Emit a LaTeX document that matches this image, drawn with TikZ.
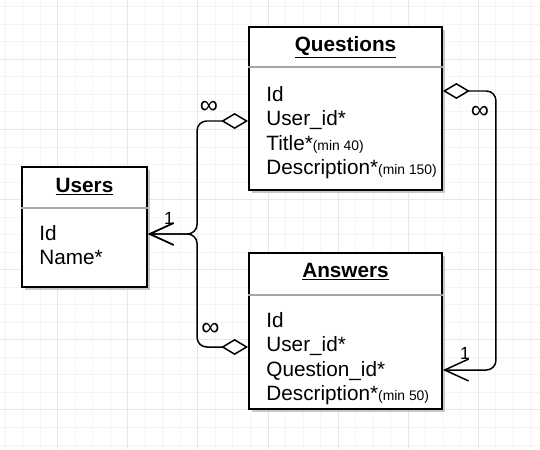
\documentclass[tikz,border=0pt]{standalone}
\usepackage{fontspec}
\setmainfont{Liberation Sans}
\usetikzlibrary{calc,shadows,arrows.meta}
\definecolor{gridminor}{HTML}{F4F4F4}
\definecolor{gridmajor}{HTML}{E7E7E7}
\tikzset{
  gridline/.style={line width=0.5pt, gridminor},
  entity/.style={draw, line width=1.1pt, fill=white, inner sep=0pt,
    drop shadow={shadow xshift=1.8pt, shadow yshift=-1.8pt, fill=black!22, opacity=1}},
  divider/.style={line width=0.9pt, black!35},
  title/.style={anchor=base, inner sep=0pt, font=\fontsize{11.8}{14}\selectfont\bfseries},
  field/.style={anchor=base west, inner sep=0pt, font=\fontsize{11.8}{14}\selectfont},
  rel/.style={line width=0.85pt, rounded corners=5.5pt},
  card/.style={inner sep=0pt, font=\fontsize{14.5}{16}\selectfont},
  one/.style={inner sep=0pt, font=\fontsize{10}{12}\selectfont},
  barb/.tip={Straight Barb[length=13.6pt, width=12.5pt]},
  agg/.tip={Diamond[fill=white, length=15.3pt, width=9.1pt]},
}
\newcommand{\minnote}[1]{{\fontsize{7.9}{9}\selectfont(min #1)}}

\begin{document}
\begin{tikzpicture}[x=0.02cm, y=-0.02cm]
\useasboundingbox (0,0) rectangle (540,449);
\fill [white] (0,0) rectangle (540,449);
% grid
\foreach \i in {0,...,30} \draw [gridline] ({5+17.53*\i},0) -- ({5+17.53*\i},449);
\foreach \j in {0,...,25} \draw [gridline] (0,{6.7+17.53*\j}) -- (540,{6.7+17.53*\j});
\foreach \i in {3,7,...,27} \draw [gridline, gridmajor] ({5+17.53*\i},0) -- ({5+17.53*\i},449);
\foreach \j in {3,7,...,23} \draw [gridline, gridmajor] (0,{6.7+17.53*\j}) -- (540,{6.7+17.53*\j});

% tables
\node [entity, minimum width=2.5cm, minimum height=2.4cm] (users) at (84.5,227) {};
\node [entity, minimum width=3.86cm, minimum height=3.26cm] (questions) at (345.5,108.5) {};
\node [entity, minimum width=3.86cm, minimum height=3.12cm] (answers) at (345.5,331) {};
\draw [divider] ($(users.north west)+(0,42)$) -- ($(users.north east)+(0,42)$);
\draw [divider] ($(questions.north west)+(0,41)$) -- ($(questions.north east)+(0,41)$);
\draw [divider] ($(answers.north west)+(0,43)$) -- ($(answers.north east)+(0,43)$);
\node [title] (userstitle) at ($(users.north)+(0,26)$) {\underline{Users}};
\node [title] (questionstitle) at ($(questions.north)+(0,25)$) {\underline{Questions}};
\node [title] (answerstitle) at ($(answers.north)+(0,25)$) {\underline{Answers}};
\foreach \txt [count=\i] in {Id, Name*}
  \node [field] (uf\i) at ($(users.north west)+(18,49.5+24.5*\i)$) {\txt};
\foreach \txt [count=\i] in {Id, User\_id*, Title*\minnote{40}, Description*\minnote{150}}
  \node [field] (qf\i) at ($(questions.north west)+(18,50.5+24.5*\i)$) {\txt};
\foreach \txt [count=\i] in {Id, User\_id*, Question\_id*, Description*\minnote{50}}
  \node [field] (af\i) at ($(answers.north west)+(18,50.5+24.5*\i)$) {\txt};

% relations
\draw [rel, barb-agg] ($(users.east)+(0,7)$) -| ($(questions.west)+(-51,12.5)$) -- ($(questions.west)+(0,12.5)$);
\draw [rel, barb-agg] ($(users.east)+(0,7)$) -| ($(answers.west)+(-51,16)$) -- ($(answers.west)+(0,16)$);
\draw [rel, agg-barb] ($(questions.east)+(0,-17.5)$) -| ($(answers.east)+(53,39)$) -- ($(answers.east)+(0,39)$);
\node [card] (manyq) at (209,107) {∞};
\node [card] (manya) at (210.5,329.5) {∞};
\node [card] (manyqa) at (480,112.5) {∞};
\node [one] (oneu) at (169,218) {1};
\node [one] (oneq) at (465,353) {1};
\end{tikzpicture}
\end{document}
